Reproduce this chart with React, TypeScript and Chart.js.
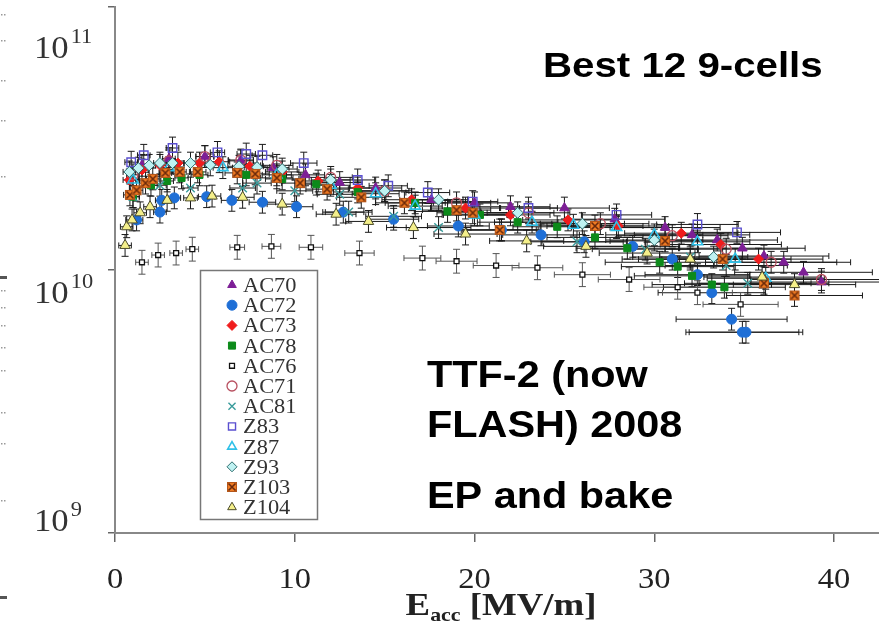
import React, { useEffect, useRef } from 'react';
import { Chart, registerables } from 'chart.js';
import { drawPoint } from 'chart.js/helpers';

Chart.register(...registerables);

// ---------------- data ----------------
const xTicks = [0, 10, 20, 30, 40];
const yTicks = [1e9, 1e10, 1e11];
const yTickExp = ['9', '10', '11'];

const titleMain = 'E';
const titleSub = 'acc';
const titleRest = ' [MV/m]';

const notes = ['Best 12 9-cells', 'TTF-2 (now', 'FLASH) 2008', 'EP and bake'];

const seriesNames = ['AC70', 'AC72', 'AC73', 'AC78', 'AC76', 'AC71', 'AC81', 'Z83', 'Z87', 'Z93', 'Z103', 'Z104'];

// Eacc [MV/m] and Q0 [1e10]
const AC70_E = [1.5, 3.0, 5.0, 7.0, 8.8, 10.6, 12.5, 14.5, 17.6, 20.0, 22.0, 25.0, 27.8, 30.6, 32.1, 33.5, 34.9, 36.1, 37.2, 38.3, 39.3];
const AC70_Q = [2.5, 2.65, 2.7, 2.6, 2.45, 2.3, 2.15, 2.05, 1.85, 1.8, 1.74, 1.72, 1.56, 1.45, 1.36, 1.3, 1.21, 1.13, 1.07, 0.98, 0.9];

const AC72_E = [1.2, 2.5, 2.6, 3.3, 5.1, 6.5, 8.2, 10.1, 12.7, 15.5, 19.1, 21.5, 23.7, 26.1, 28.8, 31.0, 32.4, 33.2, 34.3, 34.9, 35.1];
const AC72_Q = [1.55, 1.66, 1.84, 1.88, 1.9, 1.84, 1.81, 1.74, 1.66, 1.56, 1.47, 1.42, 1.36, 1.28, 1.23, 1.1, 0.96, 0.82, 0.65, 0.58, 0.58];

const AC73_E = [0.8, 1.5, 2.5, 3.5, 4.7, 5.8, 7.5, 9.3, 11.3, 13.5, 16.5, 19.5, 22.0, 25.2, 28.0, 31.5, 33.7, 35.8];
const AC73_Q = [2.2, 2.4, 2.5, 2.55, 2.55, 2.58, 2.48, 2.36, 2.18, 2.05, 1.85, 1.72, 1.62, 1.55, 1.47, 1.38, 1.25, 1.1];

const AC78_E = [1.0, 2.0, 2.9, 3.7, 4.7, 7.3, 9.3, 11.2, 13.5, 16.7, 18.5, 20.3, 22.4, 24.6, 26.7, 28.5, 30.3, 31.3, 32.1, 33.2, 33.9];
const AC78_Q = [1.9, 2.1, 2.18, 2.24, 2.3, 2.3, 2.22, 2.12, 1.98, 1.8, 1.67, 1.62, 1.52, 1.46, 1.33, 1.21, 1.07, 1.03, 0.95, 0.88, 0.86];

const AC76_E = [1.5, 2.4, 3.4, 4.3, 6.8, 8.7, 10.9, 13.6, 17.1, 19.0, 21.2, 23.5, 26.0, 28.6, 31.3, 32.4, 34.8];
const AC76_Q = [1.07, 1.14, 1.16, 1.2, 1.22, 1.23, 1.22, 1.16, 1.11, 1.08, 1.04, 1.02, 0.96, 0.92, 0.86, 0.82, 0.74];

const AC71_E = [1.0, 3.0, 5.0, 7.0, 9.0, 12.0, 15.0, 19.0, 23.0, 27.0, 31.0, 34.0, 36.5, 39.3];
const AC71_Q = [2.3, 2.6, 2.7, 2.62, 2.5, 2.25, 2.0, 1.8, 1.65, 1.5, 1.35, 1.2, 1.07, 0.92];

const AC81_E = [1.0, 2.5, 4.2, 7.1, 7.9, 10.0, 12.5, 13.0, 15.5, 18.0, 21.5, 25.7, 29.5, 32.0, 34.0, 35.2];
const AC81_Q = [1.9, 2.1, 2.05, 2.05, 2.14, 2.0, 1.94, 1.66, 1.6, 1.45, 1.42, 1.28, 1.2, 1.12, 1.04, 0.89];

const Z83_E = [0.9, 1.6, 3.2, 5.7, 7.3, 8.2, 10.5, 13.5, 15.2, 17.4, 19.9, 23.0, 27.9, 32.4, 34.6];
const Z83_Q = [2.57, 2.73, 2.91, 2.8, 2.76, 2.73, 2.55, 2.2, 2.09, 1.97, 1.82, 1.72, 1.62, 1.49, 1.39];

const Z87_E = [1.0, 3.0, 6.0, 9.0, 12.0, 14.5, 16.7, 20.0, 23.2, 25.5, 27.9, 30.0, 32.4, 34.5, 36.2];
const Z87_Q = [2.2, 2.45, 2.45, 2.3, 2.1, 1.95, 1.75, 1.62, 1.52, 1.48, 1.45, 1.36, 1.28, 1.1, 0.93];

const Z93_E = [0.8, 1.3, 1.9, 2.5, 3.2, 4.2, 5.3, 6.9, 7.9, 9.3, 12.0, 15.0, 18.0, 22.4, 26.0, 30.0, 33.3];
const Z93_Q = [2.36, 2.44, 2.5, 2.55, 2.55, 2.55, 2.51, 2.48, 2.46, 2.42, 2.2, 2.0, 1.85, 1.65, 1.5, 1.3, 1.12];

const Z103_E = [0.83, 1.2, 1.7, 2.1, 2.8, 3.6, 4.6, 6.8, 7.8, 9.0, 10.3, 11.8, 13.7, 16.1, 19.0, 19.9, 21.4, 26.7, 30.6, 33.8, 36.1, 37.8];
const Z103_Q = [1.93, 2.01, 2.14, 2.22, 2.34, 2.36, 2.36, 2.34, 2.32, 2.24, 2.14, 2.03, 1.89, 1.8, 1.69, 1.65, 1.42, 1.47, 1.29, 1.1, 0.89, 0.8];

const Z104_E = [0.56, 0.65, 0.95, 1.4, 1.95, 2.9, 4.2, 5.4, 7.1, 9.3, 12.3, 14.1, 16.6, 19.5, 22.9, 26.2, 29.6, 32.0, 36.0, 37.8];
const Z104_Q = [1.24, 1.46, 1.55, 1.65, 1.74, 1.84, 1.88, 1.91, 1.89, 1.78, 1.63, 1.53, 1.45, 1.37, 1.29, 1.23, 1.16, 1.1, 0.94, 0.88];

const seriesE = [AC70_E, AC72_E, AC73_E, AC78_E, AC76_E, AC71_E, AC81_E, Z83_E, Z87_E, Z93_E, Z103_E, Z104_E];
const seriesQ = [AC70_Q, AC72_Q, AC73_Q, AC78_Q, AC76_Q, AC71_Q, AC81_Q, Z83_Q, Z87_Q, Z93_Q, Z103_Q, Z104_Q];

// relative measurement uncertainties per series
const errRelE = [0.1, 0.09, 0.1, 0.1, 0.06, 0.1, 0.1, 0.07, 0.09, 0.09, 0.1, 0.09];
const errRelQ = [0.1, 0.1, 0.1, 0.1, 0.11, 0.1, 0.1, 0.1, 0.1, 0.1, 0.1, 0.1];
const errMinE = 0.35;

// ---------------- styles ----------------
type St = { style: string; radius: number; fill: string; stroke: string; bw: number; err: string };
const seriesStyles: St[] = [
  { style: 'triangle', radius: 5.5, fill: '#7d1f96', stroke: '#7d1f96', bw: 1, err: '#1a1a1a' },
  { style: 'circle', radius: 5, fill: '#1f6fd6', stroke: '#1f6fd6', bw: 1, err: '#1a1a1a' },
  { style: 'rectRot', radius: 5, fill: '#f01c1c', stroke: '#f01c1c', bw: 1, err: '#1a1a1a' },
  { style: 'rect', radius: 5, fill: '#0c8a1a', stroke: '#0c8a1a', bw: 1, err: '#1a1a1a' },
  { style: 'rect', radius: 3.5, fill: '#ffffff', stroke: '#111111', bw: 1.3, err: '#555555' },
  { style: 'circle', radius: 5, fill: 'rgba(255,255,255,0)', stroke: '#b85060', bw: 1.3, err: '#1a1a1a' },
  { style: 'crossRot', radius: 6, fill: '#3a9c9c', stroke: '#3a9c9c', bw: 1.4, err: '#1a1a1a' },
  { style: 'rect', radius: 6, fill: 'rgba(255,255,255,0)', stroke: '#5a4fd0', bw: 1.4, err: '#1a1a1a' },
  { style: 'triangle', radius: 6, fill: 'rgba(255,255,255,0)', stroke: '#2ec0e8', bw: 1.6, err: '#1a1a1a' },
  { style: 'rectRot', radius: 5.5, fill: '#bff2f2', stroke: '#2f6f70', bw: 1, err: '#1a1a1a' },
  { style: 'z103', radius: 5.5, fill: '#ee7a22', stroke: '#7a3210', bw: 1, err: '#1a1a1a' },
  { style: 'triangle', radius: 6, fill: '#f4ef8a', stroke: '#4a4a2a', bw: 1, err: '#1a1a1a' },
];

function makeZ103Marker(): HTMLCanvasElement {
  const c = document.createElement('canvas');
  c.width = 12;
  c.height = 12;
  const g = c.getContext('2d')!;
  g.fillStyle = '#ee7a22';
  g.fillRect(1, 1, 10, 10);
  g.strokeStyle = '#b4561a';
  g.lineWidth = 1;
  g.strokeRect(1.5, 1.5, 9, 9);
  g.strokeStyle = '#6a2a0c';
  g.lineWidth = 1.6;
  g.beginPath();
  g.moveTo(2.5, 2.5);
  g.lineTo(9.5, 9.5);
  g.moveTo(9.5, 2.5);
  g.lineTo(2.5, 9.5);
  g.stroke();
  return c;
}

function stretchText(ctx: CanvasRenderingContext2D, text: string, x: number, y: number, font: string, sx: number, align: CanvasTextAlign = 'left') {
  ctx.save();
  ctx.font = font;
  ctx.textAlign = align;
  ctx.textBaseline = 'alphabetic';
  ctx.translate(x, y);
  ctx.scale(sx, 1);
  ctx.fillText(text, 0, 0);
  ctx.restore();
}

const SERIF = '"Liberation Serif", "Times New Roman", serif';
const SANS = '"Liberation Sans", Arial, sans-serif';

export default function App() {
  const ref = useRef<HTMLCanvasElement>(null);

  useEffect(() => {
    const canvas = ref.current;
    if (!canvas) return;
    const z103 = makeZ103Marker();

    const datasets = seriesNames.map((name, i) => {
      const st = seriesStyles[i];
      return {
        label: name,
        data: seriesE[i].map((e, k) => ({ x: e, y: seriesQ[i][k] * 1e10 })),
        pointStyle: st.style === 'z103' ? z103 : st.style,
        pointRadius: st.radius,
        backgroundColor: st.fill,
        borderColor: st.stroke,
        borderWidth: st.bw,
        showLine: false,
        order: seriesNames.length - 1 - i,
      };
    });

    const errorBars = {
      id: 'errorBars',
      beforeDatasetsDraw(chart: any) {
        const { ctx } = chart;
        const xs = chart.scales.x;
        const ys = chart.scales.y;
        ctx.save();
        chart.data.datasets.forEach((ds: any, i: number) => {
          ctx.strokeStyle = seriesStyles[i].err;
          ctx.lineWidth = 1;
          ds.data.forEach((p: any) => {
            const px = xs.getPixelForValue(p.x);
            const py = ys.getPixelForValue(p.y);
            const de = Math.max(errMinE, p.x * errRelE[i]);
            const x0 = xs.getPixelForValue(Math.max(0, p.x - de));
            const x1 = xs.getPixelForValue(p.x + de);
            const y0 = ys.getPixelForValue(p.y * (1 + errRelQ[i]));
            const y1 = ys.getPixelForValue(p.y / (1 + errRelQ[i]));
            ctx.beginPath();
            ctx.moveTo(x0, py);
            ctx.lineTo(x1, py);
            ctx.moveTo(x0, py - 3);
            ctx.lineTo(x0, py + 3);
            ctx.moveTo(x1, py - 3);
            ctx.lineTo(x1, py + 3);
            ctx.moveTo(px, y0);
            ctx.lineTo(px, y1);
            ctx.moveTo(px - 3.5, y0);
            ctx.lineTo(px + 3.5, y0);
            ctx.moveTo(px - 3.5, y1);
            ctx.lineTo(px + 3.5, y1);
            ctx.stroke();
          });
        });
        ctx.restore();
      },
    };

    const decorations = {
      id: 'decorations',
      afterDraw(chart: any) {
        const { ctx } = chart;
        const xs = chart.scales.x;
        const ys = chart.scales.y;
        ctx.save();

        // x tick labels
        ctx.fillStyle = '#222';
        xTicks.forEach((v) => {
          stretchText(ctx, String(v), xs.getPixelForValue(v), 588, `29px ${SERIF}`, 1.12, 'center');
        });

        // y tick labels (10^n)
        const yShift = [-2, 33, 51];
        yTicks.forEach((v, k) => {
          const base = ys.getPixelForValue(v) + yShift[k];
          ctx.fillStyle = '#333';
          stretchText(ctx, '10', 34, base, `31px ${SERIF}`, 1.12);
          ctx.font = `31px ${SERIF}`;
          const w = ctx.measureText('10').width * 1.12;
          stretchText(ctx, yTickExp[k], 34 + w + 2, base - 15, `20px ${SERIF}`, 1.12);
        });

        // x-axis title E_acc [MV/m]
        ctx.fillStyle = '#222';
        const sx = 1.15;
        ctx.font = `bold 32px ${SERIF}`;
        const wE = ctx.measureText(titleMain).width;
        const wR = ctx.measureText(titleRest).width;
        ctx.font = `bold 19px ${SERIF}`;
        const wS = ctx.measureText(titleSub).width;
        const total = (wE + wS + wR) * sx;
        let tx = 501 - total / 2;
        stretchText(ctx, titleMain, tx, 615, `bold 32px ${SERIF}`, sx);
        tx += wE * sx;
        stretchText(ctx, titleSub, tx, 621, `bold 19px ${SERIF}`, sx);
        tx += wS * sx;
        stretchText(ctx, titleRest, tx, 615, `bold 32px ${SERIF}`, sx);

        // annotations
        ctx.fillStyle = '#000';
        stretchText(ctx, notes[0], 543, 77, `bold 35px ${SANS}`, 1.15);
        stretchText(ctx, notes[1], 427, 387, `bold 36px ${SANS}`, 1.15);
        stretchText(ctx, notes[2], 427, 437, `bold 36px ${SANS}`, 1.15);
        stretchText(ctx, notes[3], 427, 508, `bold 36px ${SANS}`, 1.15);

        // legend
        const lx = 200, ly = 270, lw = 118, lh = 250;
        ctx.fillStyle = '#fff';
        ctx.fillRect(lx, ly, lw, lh);
        ctx.strokeStyle = '#777';
        ctx.lineWidth = 1.5;
        ctx.strokeRect(lx + 0.5, ly + 0.5, lw - 1, lh - 1);
        chart.data.datasets.forEach((ds: any, i: number) => {
          const st = seriesStyles[i];
          const cy = 285 + i * 20.2;
          ctx.save();
          ctx.fillStyle = st.fill;
          ctx.strokeStyle = st.stroke;
          ctx.lineWidth = st.bw;
          drawPoint(ctx, { pointStyle: ds.pointStyle, radius: Math.min(st.radius, 5), rotation: 0, borderWidth: st.bw } as any, 232, cy);
          ctx.restore();
          ctx.fillStyle = '#333';
          stretchText(ctx, ds.label, 243, cy + 7, `20px ${SERIF}`, 1.12);
        });

        // faint scan artifacts on the left edge
        ctx.fillStyle = '#555';
        ctx.fillRect(0, 276, 7, 3);
        ctx.fillRect(0, 596, 7, 3);
        ctx.fillStyle = '#999';
        [14, 40, 80, 120, 176, 290, 307, 325, 347, 370, 412, 443, 500].forEach((yy) => {
          ctx.fillRect(1, yy, 1.5, 1.5);
          ctx.fillRect(4, yy, 1.5, 1.5);
        });

        ctx.restore();
      },
    };

    const chart = new Chart(canvas, {
      type: 'scatter',
      data: { datasets } as any,
      options: {
        animation: false,
        responsive: false,
        maintainAspectRatio: false,
        devicePixelRatio: 1,
        layout: { autoPadding: false, padding: { top: 7, right: 0, left: 0, bottom: 0 } },
        plugins: {
          legend: { display: false },
          tooltip: { enabled: false },
        },
        scales: {
          x: {
            type: 'linear',
            min: 0,
            max: 42.5,
            afterBuildTicks: (s: any) => {
              s.ticks = xTicks.map((v) => ({ value: v }));
            },
            afterFit: (s: any) => {
              s.height = 97;
            },
            ticks: { display: false },
            grid: { drawOnChartArea: false, drawTicks: true, tickLength: 9, color: '#666', lineWidth: 1.5 },
            border: { display: true, color: '#888', width: 2 },
          },
          y: {
            type: 'logarithmic',
            min: 1e9,
            max: 1e11,
            afterBuildTicks: (s: any) => {
              s.ticks = yTicks.map((v) => ({ value: v }));
            },
            afterFit: (s: any) => {
              s.width = 115;
            },
            ticks: { display: false },
            grid: { drawOnChartArea: false, drawTicks: true, tickLength: 7, color: '#666', lineWidth: 1.5 },
            border: { display: true, color: '#888', width: 2 },
          },
        },
      } as any,
      plugins: [errorBars, decorations],
    });

    return () => chart.destroy();
  }, []);

  return (
    <div style={{ position: 'fixed', left: 0, top: 0, width: 879, height: 630, background: '#fff' }}>
      <canvas ref={ref} width={879} height={630} style={{ display: 'block', width: 879, height: 630 }} />
    </div>
  );
}
